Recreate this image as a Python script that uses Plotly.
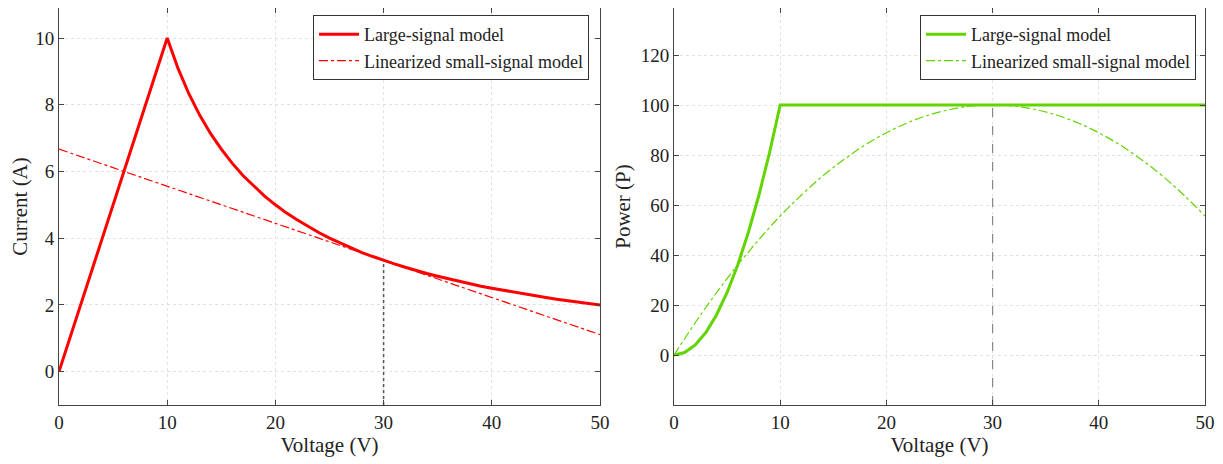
import plotly.graph_objects as go

# ---- data ----
voltage = list(range(0, 51))
current_large = [0, 1, 2, 3, 4, 5, 6, 7, 8, 9, 10,
                 9.09, 8.33, 7.69, 7.14, 6.67, 6.25, 5.88, 5.56, 5.26, 5.00,
                 4.76, 4.55, 4.35, 4.17, 4.00, 3.85, 3.70, 3.57, 3.45, 3.33,
                 3.23, 3.13, 3.03, 2.94, 2.86, 2.78, 2.70, 2.63, 2.56, 2.50,
                 2.44, 2.38, 2.33, 2.27, 2.22, 2.17, 2.13, 2.08, 2.04, 2.00]
voltage_lin = [0, 50]
current_small = [6.67, 1.11]

power_voltage = [0, 1, 2, 3, 4, 5, 6, 7, 8, 9, 10, 50]
power_large = [0, 1, 4, 9, 16, 25, 36, 49, 64, 81, 100, 100]
power_voltage_small = list(range(0, 51, 2))
power_small = [0, 12.9, 24.9, 36.0, 46.2, 55.6, 64.0, 71.6, 78.2, 84.0, 88.9,
               92.9, 96.0, 98.2, 99.6, 100, 99.6, 98.2, 96.0, 92.9, 88.9,
               84.0, 78.2, 71.6, 64.0, 55.6]

op_voltage = [30, 30]
op_current = [-1, 3.33]
op_power = [-20, 100]

x_ticks = [0, 10, 20, 30, 40, 50]
i_ticks = [0, 2, 4, 6, 8, 10]
p_ticks = [0, 20, 40, 60, 80, 100, 120]

RED = "#FF0000"
GREEN = "#62D400"
FONT = "Liberation Serif"
OFF = 8                      # page body margin in the browser
W, H = 1223 - OFF, 464 - OFF  # figure size that fits the window


def px(x):   # screen x -> paper fraction
    return (x - OFF) / W


def py(y):   # screen y (from top) -> paper fraction (from bottom)
    return min(1.0, 1 - (y - OFF) / H)


fig = go.Figure()

fig.add_trace(go.Scatter(x=voltage, y=current_large, mode="lines", name="Large-signal model",
                         line=dict(color=RED, width=3), xaxis="x", yaxis="y", legend="legend"))
fig.add_trace(go.Scatter(x=voltage_lin, y=current_small, mode="lines", name="Linearized small-signal model",
                         line=dict(color=RED, width=1.2, dash="dashdot"), xaxis="x", yaxis="y", legend="legend"))
fig.add_trace(go.Scatter(x=op_voltage, y=op_current, mode="lines", showlegend=False,
                         line=dict(color="#555555", width=1.5, dash="dot"), xaxis="x", yaxis="y"))

fig.add_trace(go.Scatter(x=power_voltage, y=power_large, mode="lines", name="Large-signal model",
                         line=dict(color=GREEN, width=3), xaxis="x2", yaxis="y2", legend="legend2"))
fig.add_trace(go.Scatter(x=power_voltage_small, y=power_small, mode="lines", name="Linearized small-signal model",
                         line=dict(color=GREEN, width=1.2, dash="dashdot", shape="spline"),
                         xaxis="x2", yaxis="y2", legend="legend2"))
fig.add_trace(go.Scatter(x=op_voltage, y=op_power, mode="lines", showlegend=False,
                         line=dict(color="#888888", width=1.2, dash="dash"), xaxis="x2", yaxis="y2"))

ydom = [py(405), py(8)]
axis_common = dict(showline=True, linecolor="#444444", linewidth=1, mirror="ticks",
                   ticks="inside", ticklen=5, tickcolor="#444444", automargin=False,
                   showgrid=True, gridcolor="#E2E2E2", griddash="3px,3px", gridwidth=1,
                   zeroline=False, tickfont=dict(family=FONT, size=19, color="#222222"),
                   title_font=dict(family=FONT, size=21, color="#222222"))

legend_common = dict(yanchor="top", xanchor="right", y=py(15),
                     bgcolor="white", bordercolor="#333333", borderwidth=1,
                     font=dict(family=FONT, size=18, color="#222222"),
                     itemwidth=40, tracegroupgap=0)

fig.update_layout(
    width=W, height=H,
    margin=dict(l=0, r=0, t=0, b=0),
    paper_bgcolor="white", plot_bgcolor="white",
    font=dict(family=FONT, color="#222222"),
    xaxis=dict(domain=[px(59), px(600)], range=[0, 50], tickvals=x_ticks,
               title=dict(text="Voltage (V)", standoff=0), anchor="y", **axis_common),
    yaxis=dict(domain=ydom, range=[-1, 10.9], tickvals=i_ticks,
               title=dict(text="Current (A)", standoff=11), anchor="x", **axis_common),
    xaxis2=dict(domain=[px(674), px(1205)], range=[0, 50], tickvals=x_ticks,
                title=dict(text="Voltage (V)", standoff=0), anchor="y2", **axis_common),
    yaxis2=dict(domain=ydom, range=[-20, 138.8], tickvals=p_ticks,
                title=dict(text="Power (P)", standoff=4), anchor="x2", **axis_common),
    legend=dict(x=px(589), **legend_common),
    legend2=dict(x=px(1196), **legend_common),
)

fig.write_html("out.html")
